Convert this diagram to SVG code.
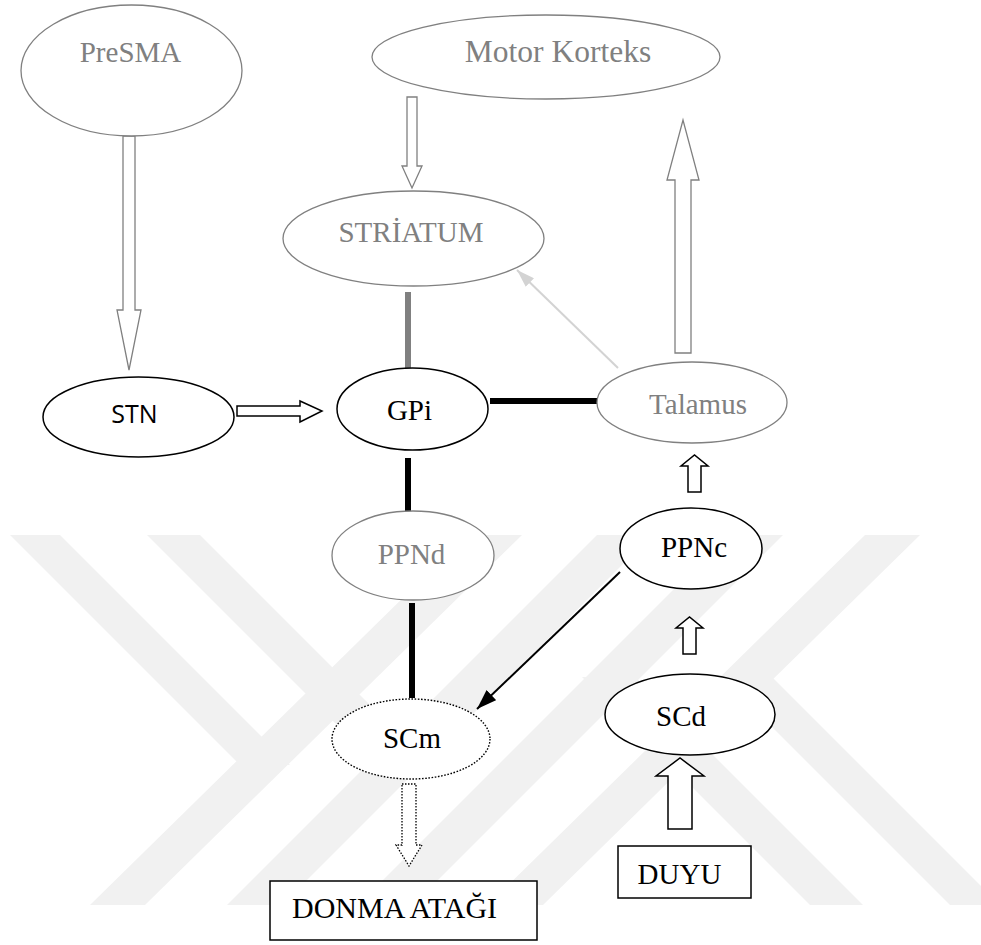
<svg xmlns="http://www.w3.org/2000/svg" xmlns:xlink="http://www.w3.org/1999/xlink" width="981" height="945" viewBox="0 0 981 945">
<style>
.wm{fill:#f1f1f1;stroke:none}
.gnode{fill:#ffffff;stroke:#808080;stroke-width:1.3}
.bnode{fill:#ffffff;stroke:#000000;stroke-width:1.5}
.dnode{fill:#ffffff;stroke:#000000;stroke-width:1.4;stroke-dasharray:1.6 1.6}
.serif{font-family:"Liberation Serif","Times New Roman",serif;font-size:29px;text-anchor:middle}
.sans{font-family:"Open Sans","Liberation Sans",sans-serif;font-size:25px;text-anchor:middle}
.gt{fill:#808080}
.bt{fill:#000000}
.garrow{fill:#ffffff;stroke:#808080;stroke-width:1.3;stroke-linejoin:miter}
.barrow{fill:#ffffff;stroke:#000000;stroke-width:1.5;stroke-linejoin:miter}
.darrow{fill:#ffffff;stroke:#000000;stroke-width:1.3;stroke-dasharray:1.5 1.5}
.thick{stroke:#000000;stroke-width:6;fill:none}
.thickg{stroke:#808080;stroke-width:6;fill:none}
</style>
<defs>
<marker id="hb" viewBox="0 0 20 14" refX="20" refY="7" markerWidth="20" markerHeight="14" markerUnits="userSpaceOnUse" orient="auto">
<path d="M0,0 L20,7 L0,14 z" fill="#000000"/>
</marker>
<marker id="hl" viewBox="0 0 18 12" refX="18" refY="6" markerWidth="18" markerHeight="12" markerUnits="userSpaceOnUse" orient="auto">
<path d="M0,0 L18,6 L0,12 z" fill="#d3d3d3"/>
</marker>
<g id="wmhalf">
<polygon class="wm" points="10,535 60,535 290,765 238,763"/>
<polygon class="wm" points="90,905 145,905 522,535 467,535"/>
<polygon class="wm" points="147,535 200,535 428,763 372,760"/>
<polygon class="wm" points="227,905 282,905 652,535 597,535"/>
</g>
</defs>
<rect x="0" y="0" width="981" height="945" fill="#ffffff"/>
<g id="watermark">
<use xlink:href="#wmhalf"/>
<use xlink:href="#wmhalf" transform="rotate(180 505 720)"/>
</g>
<g id="connectors">
<polygon class="garrow" points="123,136 135,136 135,310 141,310 129,370 117,310 123,310"/>
<polygon class="garrow" points="407,97 417,97 417,166 422,166 412,188 402,166 407,166"/>
<polygon class="garrow" points="675,353 691,353 691,180 699,180 683,120 667,180 675,180"/>
<polygon class="barrow" points="237,406 300,406 300,401 322,411 300,422 300,416 237,416"/>
<polygon class="barrow" points="688,492 701,492 701,466 708,466 694.5,455 681,466 688,466"/>
<polygon class="barrow" points="683,654 696,654 696,628 703,628 689.5,617 676,628 683,628"/>
<polygon class="barrow" points="668,829 692,829 692,776 704,776 680,758 656,776 668,776"/>
<polygon class="darrow" points="402,784 416,784 416,845 422,845 409,866 396,845 402,845"/>
<line class="thickg" x1="408" y1="292" x2="408" y2="373"/>
<line class="thick" x1="490" y1="401" x2="597" y2="401"/>
<line class="thick" x1="408" y1="458" x2="408" y2="513"/>
<line class="thick" x1="412" y1="603" x2="412" y2="698"/>
<line x1="618" y1="368" x2="517" y2="270" stroke="#d3d3d3" stroke-width="2" marker-end="url(#hl)"/>
<line x1="620" y1="572" x2="477" y2="709" stroke="#000000" stroke-width="2" marker-end="url(#hb)"/>
</g>
<g id="presma">
<ellipse class="gnode" cx="131.5" cy="70.5" rx="110.5" ry="65.5"/>
<text class="serif gt" x="130.5" y="62">PreSMA</text>
</g>
<g id="motorkorteks">
<ellipse class="gnode" cx="546" cy="57" rx="174" ry="42"/>
<text class="serif gt" x="558" y="62" style="font-size:31.5px">Motor Korteks</text>
</g>
<g id="striatum">
<ellipse class="gnode" cx="413.5" cy="238.5" rx="130.5" ry="47.5"/>
<text class="serif gt" x="411" y="242">STRİATUM</text>
</g>
<g id="stn">
<ellipse class="bnode" cx="138.5" cy="417" rx="95.5" ry="40"/>
<text class="sans bt" x="134.5" y="423">STN</text>
</g>
<g id="gpi">
<ellipse class="bnode" cx="412.5" cy="409" rx="75.5" ry="41"/>
<text class="serif bt" x="409.5" y="420">GPi</text>
</g>
<g id="talamus">
<ellipse class="gnode" cx="692" cy="402.5" rx="95" ry="40.5"/>
<text class="serif gt" x="698" y="414">Talamus</text>
</g>
<g id="ppnd">
<ellipse class="gnode" cx="413" cy="555.5" rx="81" ry="44.5"/>
<text class="serif gt" x="411.5" y="564">PPNd</text>
</g>
<g id="ppnc">
<ellipse class="bnode" cx="691" cy="548.5" rx="71" ry="40.5"/>
<text class="serif bt" x="694" y="557">PPNc</text>
</g>
<g id="scm">
<ellipse class="dnode" cx="411" cy="739" rx="79" ry="40"/>
<text class="serif bt" x="412" y="748">SCm</text>
</g>
<g id="scd">
<ellipse class="bnode" cx="690" cy="714.5" rx="85" ry="40.5"/>
<text class="serif bt" x="681" y="726">SCd</text>
</g>
<g id="duyu">
<rect x="618" y="846" width="133" height="52" fill="#ffffff" stroke="#000000" stroke-width="1.5"/>
<text class="serif bt" x="679.5" y="884">DUYU</text>
</g>
<g id="donma">
<rect x="270" y="881" width="267" height="59" fill="#ffffff" stroke="#000000" stroke-width="1.5"/>
<text class="serif bt" x="292" y="918" style="text-anchor:start;font-size:30px">DONMA ATAĞI</text>
</g>
</svg>
